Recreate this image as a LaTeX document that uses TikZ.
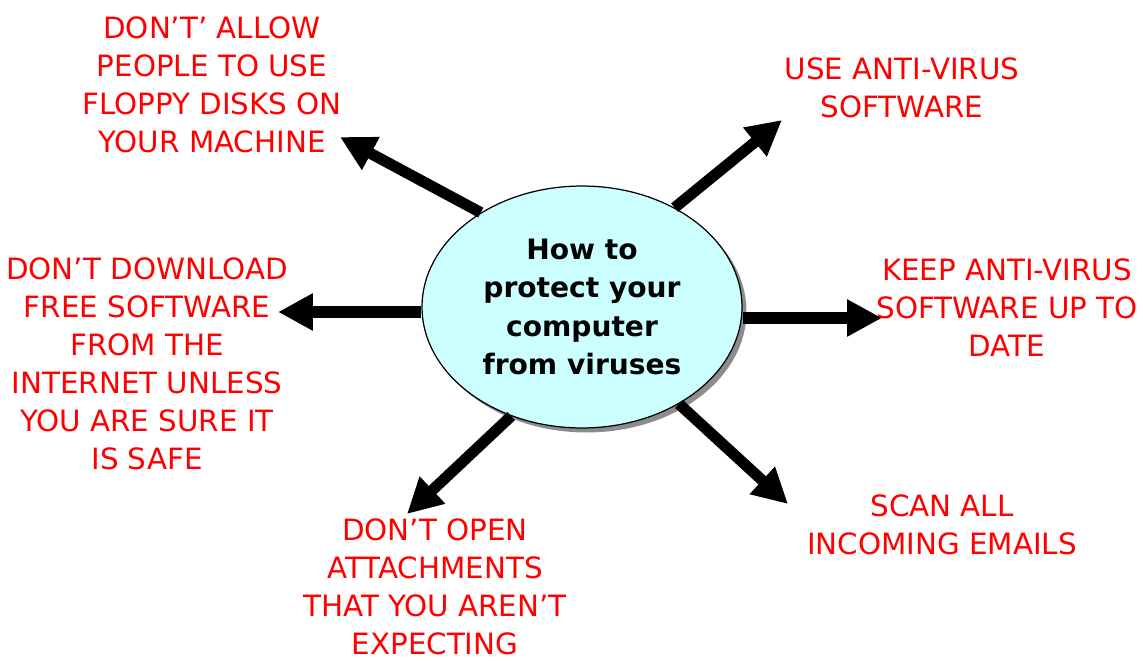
\documentclass[tikz,border=0pt]{standalone}
\usepackage{fontspec}
\setmainfont{DejaVu Sans}
\usetikzlibrary{arrows.meta,shapes.geometric,shadows}
\definecolor{hubfill}{HTML}{CCFFFF}
\begin{document}
\begin{tikzpicture}[x=0.02cm, y=0.02cm,
    advice/.style={text=red, align=center, inner sep=0pt, font=\fontsize{16.7}{21.6}\selectfont},
    bigarrow/.style={line width=6.3pt, -{Triangle[length=0.7cm, width=0.7cm]}}]
  \useasboundingbox (0,0) rectangle (1143,660);
  % centre
  \node[ellipse, draw, line width=0.7pt, fill=hubfill, minimum width=6.4cm, minimum height=4.84cm,
        inner sep=0pt, align=center, font=\fontsize{16}{21.9}\selectfont\bfseries,
        drop shadow={shadow xshift=0.09cm, shadow yshift=-0.09cm, fill=gray!90, opacity=1}]
        (hub) at (582,353) {How to\\protect your\\computer\\from viruses};
  % advice round it
  \node[advice] (floppy)   at (212,575.5) {DON'T' ALLOW\\PEOPLE TO USE\\FLOPPY DISKS ON\\YOUR MACHINE};
  \node[advice] (antivir)  at (902,572.5) {USE ANTI-VIRUS\\SOFTWARE};
  \node[advice] (update)   at (1007,352.5) {KEEP ANTI-VIRUS\\SOFTWARE UP TO\\DATE};
  \node[advice] (download) at (147,296.5) {DON'T DOWNLOAD\\FREE SOFTWARE\\FROM THE\\INTERNET UNLESS\\YOU ARE SURE IT\\IS SAFE};
  \node[advice] (attach)   at (435,73.5) {DON'T OPEN\\ATTACHMENTS\\THAT YOU AREN'T\\EXPECTING};
  \node[advice] (emails)   at (942,135.5) {SCAN ALL\\INCOMING EMAILS};
  % arrow tips
  \foreach \n/\x/\y in {floppy/340/137, antivir/782/120, update/882/318,
                        download/278/312, attach/407/514, emails/788/504}{
    \coordinate (tip-\n) at (\x,660-\y);
  }
  \foreach \ang/\n in {137/floppy, 47.3/antivir, 237.5/attach, -45.8/emails}{
    \draw[bigarrow] (hub.\ang) -- (tip-\n);
  }
  \draw[bigarrow] (hub.east |- tip-update) -- (tip-update);
  \draw[bigarrow] (hub.west |- tip-download) -- (tip-download);
\end{tikzpicture}
\end{document}
